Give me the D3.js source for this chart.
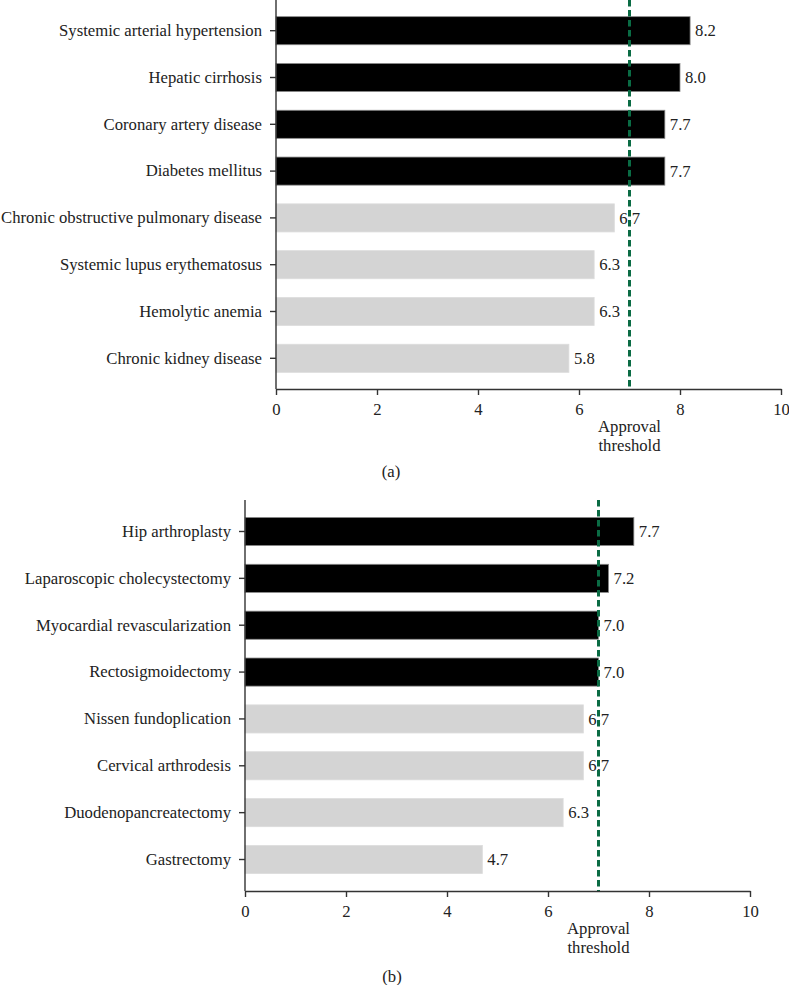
<!DOCTYPE html>
<html>
<head>
<meta charset="utf-8">
<script src="https://cdn.jsdelivr.net/npm/d3@7/dist/d3.min.js"></script>
<style>
  html, body { margin: 0; padding: 0; background: #fff; }
  svg { display: block; }
  text { font-family: "Liberation Serif", "DejaVu Serif", serif; fill: #222; }
</style>
</head>
<body>
<svg id="chart" width="789" height="985"></svg>
<script>
// ---- Data ----
const diseaseCategories = [
  "Systemic arterial hypertension",
  "Hepatic cirrhosis",
  "Coronary artery disease",
  "Diabetes mellitus",
  "Chronic obstructive pulmonary disease",
  "Systemic lupus erythematosus",
  "Hemolytic anemia",
  "Chronic kidney disease"
];
const diseaseValues = [8.2, 8.0, 7.7, 7.7, 6.7, 6.3, 6.3, 5.8];

const surgeryCategories = [
  "Hip arthroplasty",
  "Laparoscopic cholecystectomy",
  "Myocardial revascularization",
  "Rectosigmoidectomy",
  "Nissen fundoplication",
  "Cervical arthrodesis",
  "Duodenopancreatectomy",
  "Gastrectomy"
];
const surgeryValues = [7.7, 7.2, 7.0, 7.0, 6.7, 6.7, 6.3, 4.7];

const xTicks = [0, 2, 4, 6, 8, 10];
const approvalThreshold = 7;
const thresholdLabel = ["Approval", "threshold"];
const panelLabels = ["(a)", "(b)"];

// ---- Drawing ----
const svg = d3.select("#chart");
const FS = 16.7;

function drawPanel(cfg, categories, values, label) {
  const g = svg.append("g");
  const x = d3.scaleLinear().domain([0, 10]).range([cfg.x0, cfg.x1]);
  const y = d3.scaleBand().domain(categories).range([cfg.y0, cfg.y1])
    .paddingInner(0.4).paddingOuter(cfg.po);

  // bars
  g.selectAll("rect.bar").data(categories).enter().append("rect")
    .attr("class", "bar")
    .attr("x", x(0))
    .attr("y", d => y(d))
    .attr("width", (d, i) => x(values[i]) - x(0))
    .attr("height", y.bandwidth())
    .attr("fill", (d, i) => values[i] >= approvalThreshold ? "#000" : "#d4d4d4")
    .attr("stroke", (d, i) => values[i] >= approvalThreshold ? "#8a8a8a" : "#dcdcdc")
    .attr("stroke-width", 0.8);

  // value labels
  g.selectAll("text.val").data(categories).enter().append("text")
    .attr("class", "val")
    .attr("x", (d, i) => x(values[i]) + 5)
    .attr("y", d => y(d) + y.bandwidth() / 2)
    .attr("dy", "0.34em")
    .attr("font-size", FS)
    .text((d, i) => values[i].toFixed(1));

  // threshold line
  g.append("line")
    .attr("x1", x(approvalThreshold)).attr("x2", x(approvalThreshold))
    .attr("y1", cfg.y0).attr("y2", cfg.y1)
    .attr("stroke", "#0a6b44")
    .attr("stroke-width", 3)
    .attr("stroke-dasharray", "6.5,3.5");

  // x axis
  const xa = g.append("g").attr("transform", `translate(0,${cfg.y1})`)
    .call(d3.axisBottom(x).tickValues(xTicks).tickSize(6).tickPadding(8).tickSizeOuter(0));
  // y axis
  const ya = g.append("g").attr("transform", `translate(${cfg.x0},0)`)
    .call(d3.axisLeft(y).tickSize(6).tickPadding(8).tickSizeOuter(0));
  [xa, ya].forEach(a => {
    a.select(".domain").attr("stroke", "#333").attr("stroke-width", 1.4);
    a.selectAll(".tick line").attr("stroke", "#333").attr("stroke-width", 1.4);
    a.selectAll(".tick text").attr("font-size", FS).attr("fill", "#222")
      .attr("font-family", '"Liberation Serif", "DejaVu Serif", serif');
  });
  ya.select(".domain").attr("d", `M0,${cfg.y0}V${cfg.y1}`);

  // threshold label
  thresholdLabel.forEach((t, i) => {
    g.append("text")
      .attr("x", x(approvalThreshold))
      .attr("y", cfg.y1 + 43 + i * 19)
      .attr("text-anchor", "middle")
      .attr("font-size", FS)
      .text(t);
  });

  // panel label
  g.append("text")
    .attr("x", cfg.labelX)
    .attr("y", cfg.labelY)
    .attr("text-anchor", "middle")
    .attr("font-size", FS)
    .text(label);
}

drawPanel({ x0: 276, x1: 781, y0: 0, y1: 389, po: 0.356, labelX: 391, labelY: 477 },
  diseaseCategories, diseaseValues, panelLabels[0]);
drawPanel({ x0: 245, x1: 750, y0: 500, y1: 891, po: 0.372, labelX: 392, labelY: 982 },
  surgeryCategories, surgeryValues, panelLabels[1]);
</script>
</body>
</html>
